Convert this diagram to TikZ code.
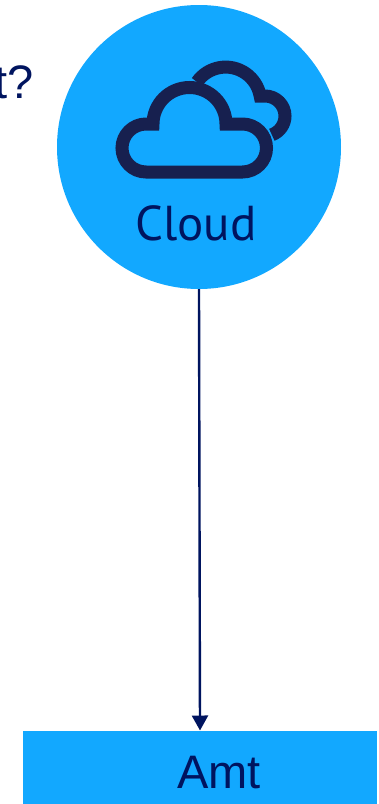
\documentclass[tikz,border=0pt]{standalone}
\usepackage{fontspec}
\setmainfont{Liberation Sans}
\newfontfamily\ptsans{PT Sans}
\usetikzlibrary{arrows.meta}
\definecolor{skyfill}{HTML}{12A8FF}
\definecolor{navytext}{HTML}{00145F}
\definecolor{iconnavy}{HTML}{17204F}
\tikzset{
  shapefill/.style={fill=skyfill,draw=none,inner sep=0pt,outer sep=0pt},
  lab/.style={text=navytext,inner sep=0pt,outer sep=0pt,font=\fontsize{47}{47}\selectfont},
  iconline/.style={draw=iconnavy,line width=13pt,line join=miter},
  link/.style={draw=navytext,line width=2.4pt,-{Triangle[length=15pt,width=16pt]},shorten >=0pt}
}
\begin{document}
\begin{tikzpicture}[x=1pt,y=-1pt]
\useasboundingbox (0,0) rectangle (378,804);
\clip (0,0) rectangle (378,804);
\node[shapefill,circle,minimum size=284pt] (cloud) at (199,147) {};
\node[shapefill,minimum width=354pt,minimum height=73.5pt] (amt) at (200,767.25) {};
% back cloud
\draw[iconline] (197,82) arc[start angle=215,end angle=350,radius=35] -- (265,96)
   arc[start angle=270,end angle=430,radius=20];
% front cloud
\draw[iconline] (146,172) arc[start angle=90,end angle=270,radius=24] -- (153,124)
   arc[start angle=180,end angle=360,radius=36.5] -- (242.5,124)
   arc[start angle=270,end angle=450,radius=24] -- cycle;
\node[lab,anchor=base,font=\ptsans\fontsize{49}{49}\selectfont] (cloudlabel) at (196,240) {Cloud};
\node[lab,anchor=base] (amtlabel) at (219,788) {Amt};
\node[lab,anchor=base east] (question) at (34,98) {t?};
\draw[link] (cloud.south) -- (amt.north);
\end{tikzpicture}
\end{document}
